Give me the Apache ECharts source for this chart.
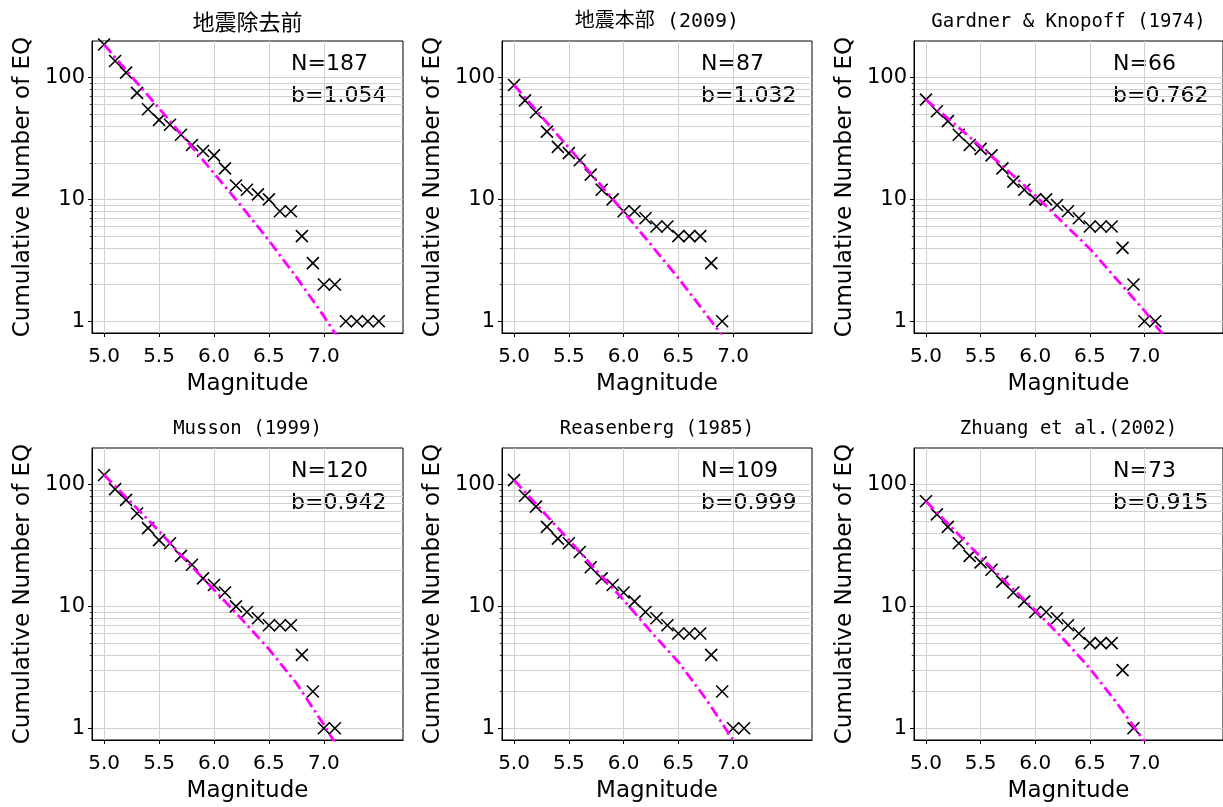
<!DOCTYPE html>
<html><head><meta charset="utf-8">
<script src="https://cdn.jsdelivr.net/npm/echarts@6/dist/echarts.min.js"></script>
<style>html,body{margin:0;padding:0;background:#fff}#c{width:1223px;height:807px}</style>
</head><body><div id="c"></div>
<script>
// ---- data ----
const panelTitles = ['地震除去前', '地震本部 (2009)', 'Gardner & Knopoff (1974)', 'Musson (1999)', 'Reasenberg (1985)', 'Zhuang et al.(2002)'];
const nTexts = ['N=187', 'N=87', 'N=66', 'N=120', 'N=109', 'N=73'];
const bTexts = ['b=1.054', 'b=1.032', 'b=0.762', 'b=0.942', 'b=0.999', 'b=0.915'];

const mag1 = [5.0,5.1,5.2,5.3,5.4,5.5,5.6,5.7,5.8,5.9,6.0,6.1,6.2,6.3,6.4,6.5,6.6,6.7,6.8,6.9,7.0,7.1,7.2,7.3,7.4,7.5];
const cnt1 = [187,137,110,75,55,45,41,34,28,25,23,18,13,12,11,10,8,8,5,3,2,2,1,1,1,1];
const mag2 = [5.0,5.1,5.2,5.3,5.4,5.5,5.6,5.7,5.8,5.9,6.0,6.1,6.2,6.3,6.4,6.5,6.6,6.7,6.8,6.9];
const cnt2 = [87,65,52,36,27,24,21,16,12,10,8,8,7,6,6,5,5,5,3,1];
const mag3 = [5.0,5.1,5.2,5.3,5.4,5.5,5.6,5.7,5.8,5.9,6.0,6.1,6.2,6.3,6.4,6.5,6.6,6.7,6.8,6.9,7.0,7.1];
const cnt3 = [66,53,44,34,28,26,23,18,14,12,10,10,9,8,7,6,6,6,4,2,1,1];
const mag4 = [5.0,5.1,5.2,5.3,5.4,5.5,5.6,5.7,5.8,5.9,6.0,6.1,6.2,6.3,6.4,6.5,6.6,6.7,6.8,6.9,7.0,7.1];
const cnt4 = [120,92,75,58,44,35,33,26,22,17,15,13,10,9,8,7,7,7,4,2,1,1];
const mag5 = [5.0,5.1,5.2,5.3,5.4,5.5,5.6,5.7,5.8,5.9,6.0,6.1,6.2,6.3,6.4,6.5,6.6,6.7,6.8,6.9,7.0,7.1];
const cnt5 = [109,81,66,45,36,33,28,21,17,15,13,11,9,8,7,6,6,6,4,2,1,1];
const mag6 = [5.0,5.1,5.2,5.3,5.4,5.5,5.6,5.7,5.8,5.9,6.0,6.1,6.2,6.3,6.4,6.5,6.6,6.7,6.8,6.9];
const cnt6 = [73,57,45,33,26,23,20,16,13,11,9,9,8,7,6,5,5,5,3,1];

// fitted curves
const fitM1 = [5.0,5.25,5.5,5.75,6.0,6.25,6.5,6.75,7.0,7.1,7.2];
const fitN1 = [187,102,56,30.5,16.4,8.8,4.6,2.3,1.1,0.8,0.58];
const fitM2 = [5.0,5.25,5.5,5.75,6.0,6.25,6.5,6.75,6.9,7.0];
const fitN2 = [87,48,26.6,14.5,7.9,4.25,2.26,1.15,0.76,0.58];
const fitM3 = [5.0,5.25,5.5,5.75,6.0,6.25,6.5,6.75,7.0,7.1,7.2];
const fitN3 = [66,42.4,27.2,17.2,10.8,6.5,3.94,2.19,1.22,0.93,0.72];
const fitM4 = [5.0,5.25,5.5,5.75,6.0,6.25,6.5,6.75,7.0,7.1,7.2];
const fitN4 = [120,71,41.5,23.6,13.7,7.9,4.46,2.34,1.07,0.76,0.55];
const fitM5 = [5.0,5.25,5.5,5.75,6.0,6.25,6.5,6.75,7.0,7.1];
const fitN5 = [109,62,35.2,19.8,11.3,6.2,3.5,1.75,0.8,0.58];
const fitM6 = [5.0,5.25,5.5,5.75,6.0,6.25,6.5,6.75,6.9,7.0,7.1];
const fitN6 = [73,43,25.5,15.3,9.3,5.5,3.1,1.6,1.04,0.78,0.58];

const xTickVals = [5.0, 5.5, 6.0, 6.5, 7.0];
const yTickVals = [1, 10, 100];
const yMinorVals = [2,3,4,5,6,7,8,9,20,30,40,50,60,70,80,90];

const mags = [mag1, mag2, mag3, mag4, mag5, mag6];
const cnts = [cnt1, cnt2, cnt3, cnt4, cnt5, cnt6];
const fitMs = [fitM1, fitM2, fitM3, fitM4, fitM5, fitM6];
const fitNs = [fitN1, fitN2, fitN3, fitN4, fitN5, fitN6];

// ---- layout ----
const cols = [{l: 92, w: 311}, {l: 502, w: 310}, {l: 914, w: 309}];
const rows = [{t: 41, h: 292}, {t: 448, h: 292}];
const titleFonts = [
  {fontFamily: "'Noto Sans CJK JP'", fontSize: 22},
  {fontFamily: "'DejaVu Sans Mono','Noto Sans CJK JP'", fontSize: 20},
  {fontFamily: "'DejaVu Sans Mono','Noto Sans CJK JP'", fontSize: 19},
  {fontFamily: "'DejaVu Sans Mono','Noto Sans CJK JP'", fontSize: 19},
  {fontFamily: "'DejaVu Sans Mono','Noto Sans CJK JP'", fontSize: 19},
  {fontFamily: "'DejaVu Sans Mono','Noto Sans CJK JP'", fontSize: 19}
];
const FONT = 'DejaVu Sans';
const GRIDC = '#d0d0d0';
const X_SYMBOL = 'path://M0,0L10,10M10,0L0,10';

const grid = [], xAxis = [], yAxis = [], series = [], graphic = [];
for (let i = 0; i < 6; i++) {
  const c = cols[i % 3], r = rows[Math.floor(i / 3)];
  grid.push({left: c.l, top: r.t, width: c.w, height: r.h, show: true,
    borderColor: '#000', borderWidth: 1, backgroundColor: 'transparent', containLabel: false});
  xAxis.push({
    gridIndex: i, type: 'value', min: 4.89, max: 7.72,
    name: 'Magnitude', nameLocation: 'middle', nameGap: 40,
    nameTextStyle: {fontFamily: FONT, fontSize: 23, color: '#000'},
    axisLine: {show: true, onZero: false, lineStyle: {color: '#000', width: 1}},
    axisTick: {show: true, length: 4, customValues: xTickVals, lineStyle: {color: '#000', width: 1}},
    axisLabel: {customValues: xTickVals, formatter: v => Number(v).toFixed(1),
      fontFamily: FONT, fontSize: 20, color: '#000', margin: 14},
    splitLine: {show: true, lineStyle: {color: GRIDC, width: 1}}
  });
  yAxis.push({
    gridIndex: i, type: 'log', logBase: 10, min: 0.8, max: 200, position: 'left',
    name: 'Cumulative Number of EQ', nameLocation: 'middle', nameGap: 57,
    nameTextStyle: {fontFamily: FONT, fontSize: 23, color: '#000'},
    axisLine: {show: true, onZero: false, lineStyle: {color: '#000', width: 1}},
    axisTick: {show: true, length: 4, customValues: yTickVals, lineStyle: {color: '#000', width: 1}},
    axisLabel: {customValues: yTickVals, fontFamily: FONT, fontSize: 21, color: '#000', margin: 7},
    splitLine: {show: true, lineStyle: {color: GRIDC, width: 1}}
  });
  yAxis.push({
    gridIndex: i, type: 'log', logBase: 10, min: 0.8, max: 200, position: 'left', offset: 0,
    axisLine: {show: false},
    axisTick: {show: true, length: 2.2, customValues: yMinorVals, lineStyle: {color: '#000', width: 0.8}},
    axisLabel: {show: false},
    splitLine: {show: true, lineStyle: {color: GRIDC, width: 1}}
  });
  series.push({
    type: 'scatter', xAxisIndex: i, yAxisIndex: 2 * i, z: 3, silent: true,
    symbol: X_SYMBOL, symbolSize: 12,
    itemStyle: {color: 'rgba(0,0,0,0)', borderColor: '#000', borderWidth: 1.6, opacity: 1},
    data: mags[i].map((m, k) => [m, cnts[i][k]])
  });
  series.push({
    type: 'line', xAxisIndex: i, yAxisIndex: 2 * i, z: 4, silent: true,
    showSymbol: false, symbol: 'none', smooth: false, clip: true,
    lineStyle: {color: '#ff00ff', width: 2.8, type: [11, 4, 2.5, 4]},
    data: fitMs[i].map((m, k) => [m, fitNs[i][k]])
  });
  graphic.push({
    type: 'text', x: c.l + c.w / 2, y: r.t - 19, silent: true,
    style: Object.assign({text: panelTitles[i], fill: '#000', align: 'center', verticalAlign: 'middle'}, titleFonts[i])
  });
  graphic.push({
    type: 'text', x: c.l + 199, y: r.t + 7, silent: true,
    style: {text: nTexts[i] + '\n' + bTexts[i], fill: '#000', fontFamily: FONT, fontSize: 22,
      lineHeight: 32, align: 'left', verticalAlign: 'top'}
  });
}

const chart = echarts.init(document.getElementById('c'), null, {renderer: 'canvas'});
chart.setOption({
  animation: false,
  backgroundColor: '#fff',
  grid, xAxis, yAxis, series, graphic
});
</script>
</body></html>
